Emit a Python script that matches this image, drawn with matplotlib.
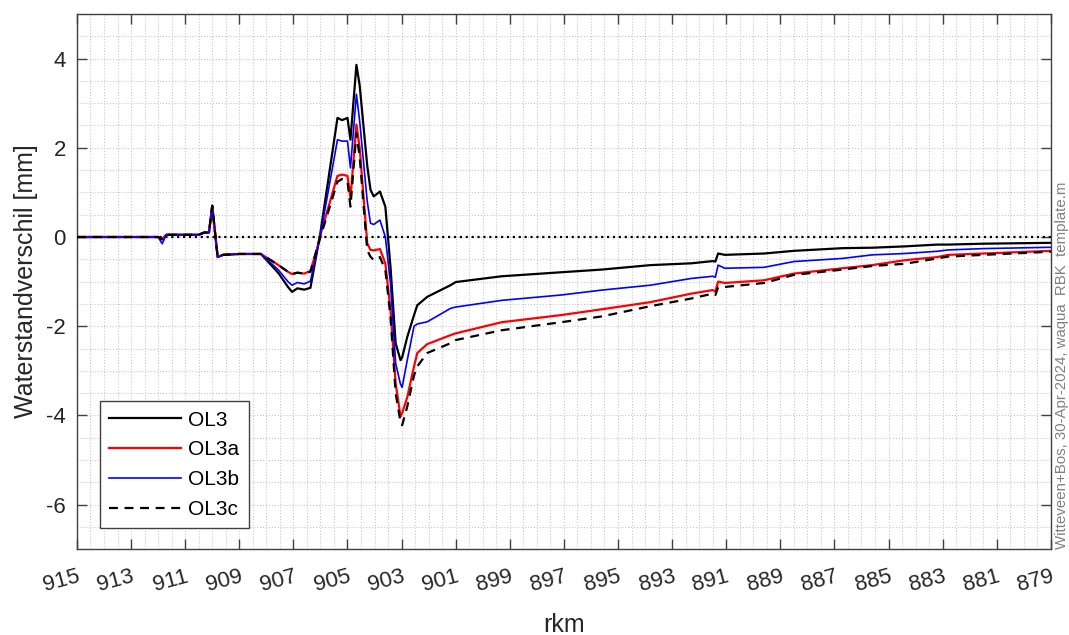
import numpy as np
import matplotlib.pyplot as plt
from matplotlib.ticker import MultipleLocator

plt.rcParams['font.family'] = ['Liberation Sans', 'DejaVu Sans']
plt.rcParams['axes.unicode_minus'] = False

# river km (reversed axis) and water level difference [mm]
rkm = [915.0, 912.4, 912.0, 911.85, 911.7, 911.5, 910.5, 910.3, 910.12, 910.0,
       909.8, 909.6, 909.0, 908.2, 907.55, 907.2, 907.05, 906.85, 906.6, 906.37,
       906.12, 906.0, 905.37, 905.2, 905.0, 904.89, 904.67, 904.55, 904.27, 904.15,
       904.03, 903.8, 903.6, 903.41, 903.22, 903.04, 902.98, 902.79, 902.54, 902.42,
       902.05, 901.19, 901.0, 899.3, 897.1, 895.6, 893.8, 892.3, 891.5, 891.4,
       891.3, 891.05, 889.6, 888.5, 886.7, 885.6, 884.4, 883.2, 882.8, 881.5, 879.0]

ol3 = [0.0, 0.0, 0.0, -0.05, 0.05, 0.05, 0.05, 0.1, 0.1, 0.7,
       -0.45, -0.4, -0.38, -0.38, -0.81, -1.12, -1.23, -1.15, -1.18, -1.14,
       -0.3, 0.1, 2.67, 2.62, 2.67, 2.18, 3.86, 3.4, 1.6, 1.06,
       0.91, 1.02, 0.68, -0.67, -2.38, -2.76, -2.7, -2.24, -1.75, -1.53,
       -1.34, -1.08, -1.01, -0.88, -0.79, -0.73, -0.63, -0.59, -0.54, -0.55,
       -0.37, -0.4, -0.37, -0.31, -0.25, -0.24, -0.21, -0.17, -0.17, -0.15, -0.13]

ol3a = [0.0, 0.0, 0.0, -0.05, 0.05, 0.05, 0.05, 0.1, 0.1, 0.7,
        -0.45, -0.4, -0.38, -0.38, -0.63, -0.78, -0.83, -0.8, -0.82, -0.76,
        -0.25, 0.05, 1.37, 1.4, 1.37, 0.88, 2.52, 2.0, -0.14, -0.29,
        -0.3, -0.27, -0.59, -1.64, -3.28, -4.02, -3.95, -3.59, -2.9, -2.6,
        -2.4, -2.2, -2.16, -1.91, -1.75, -1.62, -1.46, -1.27, -1.19, -1.22,
        -1.0, -1.03, -0.97, -0.82, -0.7, -0.63, -0.52, -0.45, -0.4, -0.37, -0.31]

ol3b = [0.0, 0.0, 0.0, -0.15, 0.05, 0.05, 0.05, 0.1, 0.1, 0.7,
        -0.45, -0.4, -0.38, -0.38, -0.74, -1.0, -1.08, -1.02, -1.05, -0.99,
        -0.3, 0.05, 2.18, 2.15, 2.15, 1.55, 3.2, 2.6, 0.8, 0.31,
        0.28, 0.38, 0.0, -1.04, -2.83, -3.3, -3.37, -2.76, -2.0, -1.95,
        -1.9, -1.6, -1.57, -1.42, -1.3, -1.19, -1.08, -0.93, -0.88, -0.9,
        -0.63, -0.7, -0.68, -0.55, -0.48, -0.4, -0.37, -0.32, -0.29, -0.26, -0.23]

ol3c = [0.0, 0.0, 0.0, -0.05, 0.05, 0.05, 0.05, 0.1, 0.1, 0.7,
        -0.45, -0.4, -0.38, -0.38, -0.63, -0.78, -0.83, -0.8, -0.82, -0.78,
        -0.25, 0.0, 1.24, 1.3, 1.25, 0.68, 2.33, 1.8, -0.3, -0.44,
        -0.52, -0.45, -0.74, -1.79, -3.5, -4.15, -4.22, -3.8, -3.1, -2.9,
        -2.6, -2.38, -2.31, -2.09, -1.91, -1.78, -1.55, -1.38, -1.27, -1.3,
        -1.13, -1.12, -1.03, -0.85, -0.73, -0.65, -0.6, -0.48, -0.44, -0.4, -0.33]

xticks = np.arange(915, 878, -2)
yticks = [-6, -4, -2, 0, 2, 4]

fig = plt.figure(figsize=(10.69, 6.35), dpi=100)
ax = fig.add_axes([0.072, 0.135, 0.911, 0.843])

ax.axhline(0, color='black', linestyle=':', linewidth=1.6, zorder=2)
ax.plot(rkm, ol3, color='black', linewidth=1.6, label='OL3', zorder=3)
ax.plot(rkm, ol3a, color='red', linewidth=1.6, label='OL3a', zorder=3)
ax.plot(rkm, ol3b, color='blue', linewidth=1.2, label='OL3b', zorder=3)
ax.plot(rkm, ol3c, color='black', linewidth=1.6, linestyle=(0, (4, 3)), label='OL3c', zorder=3)

ax.set_xlim(915, 879)
ax.set_ylim(-7, 5)
ax.set_xticks(xticks)
ax.set_yticks(yticks)
ax.xaxis.set_minor_locator(MultipleLocator(0.5))
ax.yaxis.set_minor_locator(MultipleLocator(0.5))
ax.grid(which='both', color='#c8c8c8', linestyle=':', linewidth=0.8, zorder=0)
ax.set_axisbelow(True)

ax.tick_params(which='major', direction='in', length=7, width=1.0, color='#404040',
               labelsize=16, labelcolor='#262626', top=True, right=True)
ax.tick_params(axis='x', which='major', pad=12)
ax.tick_params(axis='y', which='major', pad=8)
ax.tick_params(which='minor', length=0)
for lab in ax.get_xticklabels():
    lab.set_rotation(15)
    lab.set_ha('right')
    lab.set_rotation_mode('anchor')
for s in ax.spines.values():
    s.set_color('#404040')
    s.set_linewidth(1.0)

ax.set_xlabel('rkm', fontsize=18, color='#262626', labelpad=12)
ax.set_ylabel('Waterstandverschil [mm]', fontsize=18, color='#262626', labelpad=6)

leg = ax.legend(loc='lower left', bbox_to_anchor=(0.0236, 0.039), borderaxespad=0,
                fontsize=15, handlelength=3.45, handletextpad=0.35,
                fancybox=False, framealpha=1, edgecolor='#404040',
                borderpad=0.45, labelspacing=0.52)
leg.get_frame().set_linewidth(1.0)

fig.text(0.993, 0.135, 'Witteveen+Bos, 30-Apr-2024, waqua  RBK  template.m',
         rotation=90, ha='center', va='bottom', fontsize=10.8, color='#808080')

fig.savefig('out.png', dpi=100)
